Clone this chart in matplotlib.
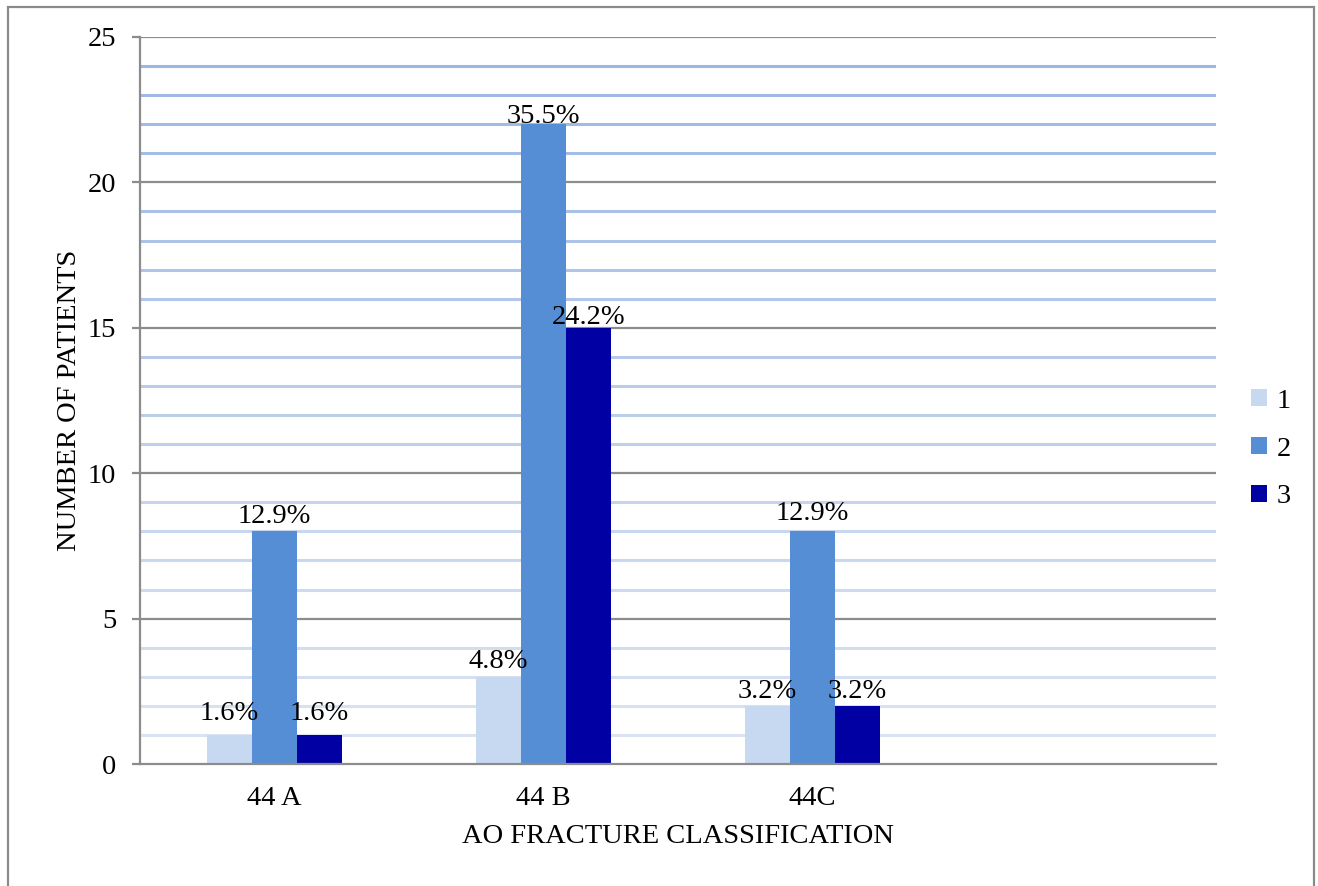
import matplotlib.pyplot as plt
from matplotlib.patches import Rectangle
import numpy as np

plt.rcParams['font.family'] = ['Liberation Serif', 'DejaVu Serif']
FS = 20.5

categories = ['44 A', '44 B', '44C', '']
series_names = ['1', '2', '3']
counts_1 = [1, 3, 2, 0]
counts_2 = [8, 22, 8, 0]
counts_3 = [1, 15, 2, 0]
pct_1 = ['1.6%', '4.8%', '3.2%', None]
pct_2 = ['12.9%', '35.5%', '12.9%', None]
pct_3 = ['1.6%', '24.2%', '3.2%', None]

colors = ['#C6D9F0', '#558ED5', '#0000A3']
# gap between label baseline and bar top, in points
label_gaps = [[11, 6, 6, 0], [6, 1, 8, 0], [11, 3, 6, 0]]

fig = plt.figure(figsize=(13.18, 8.86), dpi=100)
ax = fig.add_axes([140 / 1318, 122 / 886, 1076 / 1318, 727 / 886])

# outer chart border
fig.patches.append(Rectangle((8 / 1318, -0.05), 1306 / 1318, 1.05 - 7 / 886,
                             transform=fig.transFigure, fill=False,
                             edgecolor='#8a8a8a', linewidth=1.6, zorder=0))

ax.set_xlim(-0.5, 3.5)
ax.set_ylim(0, 25)

# minor gridlines, lighter toward the bottom
top_c = np.array([155, 183, 227]) / 255
bot_c = np.array([222, 229, 243]) / 255
for v in range(1, 25):
    if v % 5 == 0:
        continue
    t = v / 24
    ax.axhline(v, color=bot_c + (top_c - bot_c) * t, linewidth=2.2, zorder=0.5)
for v in range(5, 26, 5):
    ax.axhline(v, color='#8c8c8c', linewidth=1.6, zorder=0.6)

x = np.arange(len(categories))
w = 45 / 269
all_counts = [counts_1, counts_2, counts_3]
all_pcts = [pct_1, pct_2, pct_3]
for i, (vals, pcts, col, name) in enumerate(zip(all_counts, all_pcts, colors, series_names)):
    xs = x + (i - 1) * w
    ax.bar(xs, vals, width=w, color=col, label=name, zorder=2)
    for j, (xv, yv, p) in enumerate(zip(xs, vals, pcts)):
        if p is None:
            continue
        ax.annotate(p, (xv, yv), xytext=(0, label_gaps[i][j]), textcoords='offset points',
                    ha='center', va='baseline', fontsize=FS, color='black', zorder=3)

ax.set_xticks(x)
ax.set_xticklabels(categories)
ax.set_yticks(range(0, 26, 5))
ax.tick_params(axis='x', length=0, pad=16, labelsize=FS)
ax.tick_params(axis='y', length=6, width=1.6, color='#8c8c8c', pad=11, labelsize=FS)

for s in ['top', 'right']:
    ax.spines[s].set_visible(False)
for s in ['left', 'bottom']:
    ax.spines[s].set_color('#8c8c8c')
    ax.spines[s].set_linewidth(1.6)
    ax.spines[s].set_zorder(4)

ax.set_ylabel('NUMBER OF PATIENTS', fontsize=FS, labelpad=4)
ax.set_xlabel('AO FRACTURE CLASSIFICATION', fontsize=FS, labelpad=9)

fig.legend(loc='center left', bbox_to_anchor=(1240 / 1318, 1 - 449 / 886), frameon=False,
           fontsize=FS, handlelength=0.55, handleheight=0.55, handletextpad=0.35,
           labelspacing=0.8, borderaxespad=0)

fig.savefig('out.png', dpi=100)
